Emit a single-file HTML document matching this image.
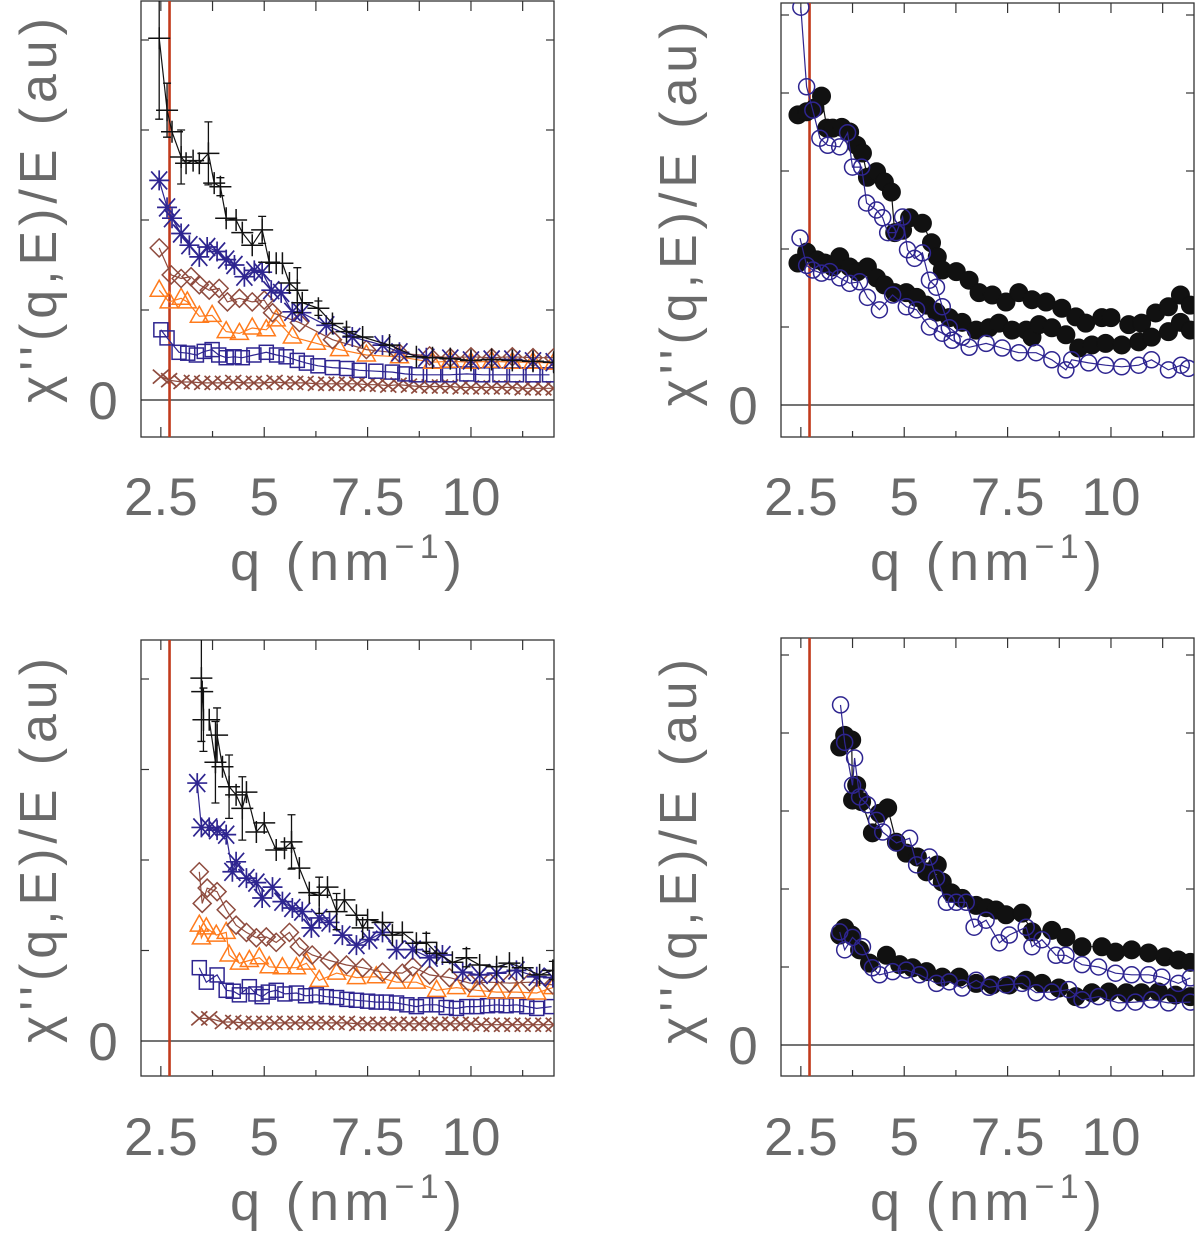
<!DOCTYPE html>
<html><head><meta charset="utf-8"><style>
html,body{margin:0;padding:0;background:#fff;}
svg{display:block;}
text{font-family:"Liberation Sans","DejaVu Sans",sans-serif;fill:#6a6a6a;}
</style></head>
<body>
<svg id="fig" width="1200" height="1234" viewBox="0 0 1200 1234" xmlns="http://www.w3.org/2000/svg"></svg>
<script>
// ---------- DATA (q in nm^-1, values in tick units) ----------
// Top-left panel
const tlPlusQ=[2.46,2.65,2.77,2.99,3.11,3.28,3.43,3.65,3.79,3.94,4.08,4.32,4.47,4.71,4.95,5.12,5.29,5.44,5.61,5.80,5.92,6.31,6.65,6.99,7.38,8.03,8.68,9.07,9.5,10,10.5,11,11.5,12];
const tlPlusV=[4.02,3.22,2.98,2.70,2.63,2.66,2.63,2.74,2.41,2.37,2.02,2.00,1.86,1.72,1.89,1.53,1.52,1.52,1.30,1.22,1.08,1.02,0.85,0.76,0.70,0.61,0.48,0.47,0.46,0.44,0.45,0.44,0.43,0.42];
const tlPlusE=[0.9,0.3,0.0,0.3,0.0,0.0,0.0,0.35,0.0,0.1,0.0,0.0,0.0,0.0,0.15,0.0,0.0,0.0,0.0,0.25,0.0,0.08,0.0,0.05,0.0,0.0,0.0,0.0,0,0,0,0,0,0];
const tlStarQ=[2.46,2.65,2.77,2.99,3.19,3.43,3.62,3.86,4.08,4.28,4.52,4.76,4.95,5.17,5.41,5.68,5.90,6.50,7.13,7.86,8.27,8.92,9.5,10,10.5,11,11.5,12];
const tlStarV=[2.44,2.14,2.02,1.85,1.72,1.59,1.70,1.65,1.56,1.50,1.37,1.44,1.42,1.22,1.19,0.98,0.97,0.83,0.70,0.61,0.53,0.47,0.46,0.44,0.45,0.45,0.43,0.42];
const tlDiaQ=[2.46,2.75,2.99,3.23,3.43,3.67,3.91,4.11,4.40,4.71,5.00,5.20,5.85,6.65,7.47,8.27,9,9.5,10,10.5,11,11.5,12];
const tlDiaV=[1.69,1.39,1.35,1.37,1.28,1.22,1.24,1.09,1.13,1.09,1.11,0.97,0.86,0.67,0.56,0.52,0.49,0.47,0.48,0.47,0.48,0.47,0.47];
const tlTriQ=[2.46,2.70,2.99,3.14,3.43,3.74,4.08,4.40,4.71,5.05,5.29,5.68,6.26,6.82,7.47,8.27,9.07,9.5,10,10.5,11,11.5,12];
const tlTriV=[1.22,1.09,1.13,1.09,0.93,0.94,0.76,0.74,0.80,0.78,0.89,0.70,0.63,0.56,0.50,0.48,0.42,0.43,0.42,0.43,0.42,0.42,0.41];
const tlSqQ=[2.5,2.65,2.94,3.15,3.36,3.55,3.74,3.9,4.08,4.27,4.47,4.75,5.05,5.3,5.53,5.8,6.02,6.3,6.65,7.0,7.30,7.7,8.10,8.4,8.68,9.1,9.48,9.9,10.28,10.7,11.1,11.5,11.9];
const tlSqV=[0.78,0.69,0.53,0.52,0.50,0.54,0.56,0.50,0.47,0.48,0.47,0.50,0.53,0.50,0.48,0.44,0.41,0.38,0.36,0.35,0.33,0.32,0.31,0.29,0.28,0.28,0.28,0.29,0.28,0.28,0.28,0.28,0.28];
const tlXQ=[2.5,2.7,3,3.25,3.5,3.75,4,4.25,4.5,4.75,5,5.25,5.5,5.75,6,6.25,6.5,6.75,7,7.25,7.5,7.75,8,8.25,8.5,8.75,9,9.25,9.5,9.75,10,10.25,10.5,10.75,11,11.25,11.5,11.75,12];
const tlXV=[0.26,0.22,0.20,0.20,0.19,0.19,0.19,0.20,0.19,0.19,0.19,0.20,0.19,0.19,0.19,0.18,0.18,0.18,0.18,0.18,0.17,0.17,0.16,0.17,0.16,0.15,0.15,0.15,0.15,0.14,0.14,0.14,0.14,0.14,0.14,0.13,0.13,0.13,0.13];
// Top-right panel
const trFillUQ=[2.43,2.64,2.84,3.0,3.13,3.27,3.49,3.68,3.85,3.99,4.11,4.33,4.52,4.69,4.77,4.96,5.13,5.44,5.66,5.80,5.92,6.26,6.57,6.81,7.13,7.46,7.77,8.09,8.43,8.81,9.15,9.39,9.78,10.0,10.43,10.74,11.08,11.39,11.68,11.92];
const trFillUV=[3.72,3.76,3.81,3.96,3.55,3.55,3.56,3.50,3.33,3.23,2.92,2.99,2.86,2.73,2.21,2.24,2.40,2.33,2.08,1.90,1.73,1.71,1.60,1.44,1.41,1.32,1.44,1.35,1.32,1.24,1.13,1.05,1.12,1.12,1.03,1.05,1.18,1.26,1.41,1.28];
const trOpenUQ=[2.5,2.64,2.79,2.96,3.15,3.44,3.63,3.75,3.97,4.09,4.33,4.48,4.60,4.81,4.96,5.08,5.25,5.44,5.61,5.78,5.92,6.09,6.40];
const trOpenUV=[5.10,4.08,3.78,3.42,3.33,3.31,3.49,3.05,3.05,2.59,2.50,2.40,2.21,2.21,2.41,1.99,1.88,1.95,1.60,1.51,1.26,0.99,0.87];
const trFillLQ=[2.43,2.64,2.89,3.08,3.27,3.44,3.68,3.87,4.11,4.33,4.52,4.77,5.05,5.30,5.54,5.78,6.09,6.40,6.74,7.05,7.29,7.61,7.95,8.09,8.26,8.57,8.91,9.22,9.54,9.87,10.26,10.67,10.98,11.39,11.68,11.92];
const trFillLV=[1.82,1.96,1.86,1.82,1.77,1.90,1.77,1.71,1.77,1.63,1.54,1.44,1.44,1.38,1.28,1.19,1.12,1.06,0.96,0.99,1.05,0.96,0.96,0.87,1.03,0.99,0.90,0.73,0.77,0.79,0.77,0.81,0.87,0.94,1.06,0.96];
const trOpenLQ=[2.48,2.64,2.79,3.0,3.20,3.44,3.68,3.92,4.11,4.40,4.72,5.05,5.30,5.61,5.92,6.16,6.57,6.98,7.37,7.77,8.19,8.57,8.91,9.05,9.46,9.87,10.26,10.67,10.98,11.39,11.70,11.87];
const trOpenLV=[2.14,1.79,1.73,1.69,1.71,1.63,1.56,1.58,1.38,1.22,1.41,1.26,1.22,1.00,0.92,0.83,0.74,0.79,0.73,0.67,0.67,0.58,0.45,0.58,0.54,0.51,0.49,0.51,0.58,0.45,0.51,0.47];
// Bottom-left panel
const blPlusQ=[3.48,3.50,3.53,3.67,3.82,3.86,3.99,4.15,4.32,4.47,4.57,4.81,5.0,5.29,5.49,5.66,5.85,6.09,6.33,6.53,6.75,6.94,7.23,7.38,7.50,7.86,8.10,8.34,8.68,8.92,9.17,9.55,9.89,10.21,10.62,10.93,11.25,11.66,11.98];
const blPlusV=[4.01,3.86,3.55,3.55,3.08,3.38,3.03,2.81,2.72,2.57,2.75,2.31,2.41,2.11,2.13,2.20,1.91,1.64,1.61,1.70,1.43,1.56,1.39,1.25,1.34,1.31,1.17,1.20,1.08,1.09,0.97,0.87,0.92,0.84,0.82,0.86,0.81,0.73,0.78];
const blPlusE=[0.7,0,0.35,0,0.45,0.3,0,0.35,0,0.35,0,0,0,0,0,0.3,0,0,0.2,0,0.2,0,0,0,0,0,0,0,0,0.1,0,0,0.1,0,0,0,0,0,0.1];
const blStarQ=[3.38,3.48,3.67,3.86,4.08,4.23,4.32,4.57,4.81,4.95,5.20,5.44,5.68,5.92,6.14,6.33,6.58,6.89,7.23,7.54,7.86,8.20,8.59,9.0,9.31,9.80,10.21,10.62,11.1,11.59,11.98];
const blStarV=[2.85,2.36,2.36,2.33,2.28,1.87,1.98,1.80,1.75,1.58,1.70,1.54,1.47,1.43,1.25,1.36,1.31,1.17,1.06,1.12,1.20,1.01,1.01,0.92,0.95,0.76,0.73,0.75,0.78,0.71,0.70];
const blDiaQ=[3.43,3.50,3.62,3.86,4.08,4.32,4.57,4.81,5.05,5.29,5.61,5.85,6.16,6.58,6.99,7.38,7.86,8.34,8.59,9.0,9.48,9.97,10.45,10.93,11.42,11.98];
const blDiaV=[1.87,1.52,1.69,1.65,1.45,1.28,1.20,1.14,1.15,1.09,1.20,1.04,0.95,0.89,0.84,0.81,0.76,0.75,0.82,0.73,0.70,0.64,0.65,0.64,0.65,0.62];
const blTriQ=[3.43,3.48,3.60,3.84,4.08,4.15,4.40,4.64,4.88,5.12,5.44,5.78,6.02,6.33,6.75,7.23,7.71,8.20,8.68,9.17,9.65,10.14,10.62,11.1,11.59,11.98];
const blTriV=[1.28,1.14,1.25,1.17,1.20,0.95,0.86,0.89,0.92,0.82,0.81,0.81,0.86,0.67,0.75,0.70,0.71,0.65,0.65,0.56,0.59,0.56,0.54,0.54,0.53,0.59];
const blSqQ=[3.43,3.60,3.86,4.08,4.25,4.40,4.64,4.8,4.95,5.1,5.29,5.5,5.78,6.0,6.26,6.5,6.75,7.0,7.23,7.5,7.71,7.95,8.20,8.45,8.68,8.9,9.17,9.4,9.65,9.9,10.14,10.4,10.62,10.85,11.1,11.35,11.59,11.95];
const blSqV=[0.81,0.65,0.73,0.56,0.55,0.51,0.60,0.52,0.49,0.54,0.56,0.52,0.53,0.50,0.51,0.49,0.48,0.46,0.45,0.44,0.43,0.43,0.42,0.40,0.38,0.40,0.40,0.37,0.36,0.38,0.38,0.39,0.40,0.39,0.40,0.38,0.36,0.38];
const blXQ=[3.43,3.67,4,4.25,4.5,4.75,5,5.25,5.5,5.75,6,6.25,6.5,6.75,7,7.25,7.5,7.75,8,8.25,8.5,8.75,9,9.25,9.5,9.75,10,10.25,10.5,10.75,11,11.25,11.5,11.75,12];
const blXV=[0.25,0.25,0.21,0.21,0.20,0.20,0.20,0.20,0.20,0.20,0.20,0.20,0.20,0.20,0.20,0.19,0.19,0.19,0.19,0.19,0.19,0.19,0.19,0.19,0.19,0.19,0.19,0.18,0.18,0.18,0.18,0.18,0.18,0.18,0.18];
// Bottom-right panel
const brFillUQ=[3.44,3.56,3.73,3.75,3.85,3.97,4.23,4.40,4.60,4.81,5.05,5.32,5.54,5.80,5.92,6.14,6.40,6.74,6.98,7.22,7.46,7.85,8.09,8.57,8.91,9.30,9.78,10.11,10.50,10.91,11.30,11.63,11.92];
const brFillUV=[3.82,3.97,3.91,3.14,3.33,3.12,2.72,2.97,3.04,2.60,2.46,2.41,2.22,2.31,2.09,1.95,1.88,1.79,1.76,1.73,1.67,1.69,1.45,1.47,1.38,1.26,1.26,1.19,1.22,1.18,1.13,1.09,1.06];
const brOpenUQ=[3.46,3.56,3.75,3.80,3.92,4.11,4.33,4.48,4.81,5.13,5.30,5.61,5.78,6.02,6.26,6.50,6.69,6.98,7.30,7.54,7.95,8.09,8.33,8.67,8.91,9.30,9.70,10.11,10.50,10.91,11.23,11.63,11.92];
const brOpenUV=[4.36,3.88,3.33,3.68,3.18,3.08,2.88,2.73,2.59,2.65,2.31,2.41,2.14,1.83,1.83,1.83,1.51,1.60,1.31,1.41,1.51,1.26,1.35,1.15,1.15,1.03,1.00,0.92,0.90,0.90,0.87,0.79,0.86];
const brFillLQ=[3.44,3.56,3.73,3.92,4.16,4.57,4.89,5.20,5.54,5.92,6.33,6.74,7.13,7.54,7.95,8.33,8.74,9.15,9.54,9.95,10.37,10.74,11.15,11.56,11.92];
const brFillLV=[1.41,1.50,1.41,1.22,1.05,1.15,1.03,0.99,0.94,0.87,0.87,0.79,0.77,0.77,0.83,0.79,0.73,0.62,0.67,0.68,0.67,0.67,0.68,0.64,0.62];
const brOpenLQ=[3.44,3.56,3.75,3.99,4.23,4.40,4.72,5.05,5.37,5.78,6.09,6.40,6.74,7.05,7.46,7.85,8.19,8.57,8.98,9.30,9.70,10.18,10.59,10.98,11.39,11.92];
const brOpenLV=[1.45,1.22,1.38,1.26,0.99,0.90,0.94,0.96,0.90,0.79,0.81,0.73,0.83,0.74,0.77,0.79,0.67,0.68,0.71,0.58,0.62,0.54,0.55,0.58,0.54,0.55];
const xTickLabels=["2.5","5","7.5","10"];
const xTickVals=[2.5,5,7.5,10];

// ---------- DRAWING ----------
const NS="http://www.w3.org/2000/svg";
const svg=document.getElementById('fig');
const BLACK="#111", BLUE="#2e2590", BROWN="#8e4b3e", ORANGE="#ff7b1c", RED="#c23a1c";
function mk(tag,attrs,parent){const e=document.createElementNS(NS,tag);for(const k in attrs)e.setAttribute(k,attrs[k]);(parent||svg).appendChild(e);return e;}

const panels=[
 {id:'top-left',L:141,R:554,T:1,B:437,zero:400,unit:90,nTicks:4,lblDX:0,lblDY:0},
 {id:'top-right',L:781,R:1194,T:3,B:437,zero:405,unit:78,nTicks:5,lblDX:640,lblDY:0},
 {id:'bottom-left',L:141,R:554,T:640,B:1076,zero:1041,unit:90.5,nTicks:4,lblDX:0,lblDY:640},
 {id:'bottom-right',L:781,R:1194,T:638,B:1076,zero:1045,unit:78,nTicks:5,lblDX:640,lblDY:640}
];
const QMIN=2.02, PXQ=41.35, RED_Q=2.71;

function drawPanel(p){
  const g=mk('g',{});
  
  
  const xs=q=>p.L+(q-QMIN)*PXQ;
  const ys=v=>p.zero-v*p.unit;
  const cid='clip-'+p.id;
  const cp=mk('clipPath',{id:cid},g);
  mk('rect',{x:p.L,y:p.T,width:p.R-p.L,height:p.B-p.T},cp);
  const fr=mk('rect',{x:p.L,y:p.T,width:p.R-p.L,height:p.B-p.T,fill:'none',stroke:'#333','stroke-width':1.3},g);
  
  
  for(let q=2.5;q<12.1;q+=1.25){
    const major=Math.abs((q/2.5)-Math.round(q/2.5))<1e-6;
    const x=xs(q), len=major?10:6;
    mk('line',{x1:x,x2:x,y1:p.B,y2:p.B-len,stroke:'#333','stroke-width':1.2},g);
    mk('line',{x1:x,x2:x,y1:p.T,y2:p.T+10,stroke:'#333','stroke-width':1.2},g);
  }
  for(let i=1;i<=p.nTicks;i++){
    const y=ys(i);
    mk('line',{x1:p.L,x2:p.L+8,y1:y,y2:y,stroke:'#333','stroke-width':1.2},g);
    mk('line',{x1:p.R,x2:p.R-8,y1:y,y2:y,stroke:'#333','stroke-width':1.2},g);
  }
  const zl=mk('line',{x1:p.L,x2:p.R,y1:p.zero,y2:p.zero,stroke:'#222','stroke-width':1.2},g);
  
  
  const data=mk('g',{'clip-path':'url(#'+cid+')'},g);
  const rl=mk('line',{x1:xs(RED_Q),x2:xs(RED_Q),y1:p.T,y2:p.B,stroke:RED,'stroke-width':2.6},data);
  
  
  xTickVals.forEach((v,i)=>{
    const t=mk('text',{x:xs(v),y:515+p.lblDY,'text-anchor':'middle','font-size':53},svg);
    t.textContent=xTickLabels[i];
    
    
  });
  const z=mk('text',{x:p.L-38,y:p.zero+19,'text-anchor':'middle','font-size':53},svg);
  z.textContent='0';
  
  
  const xt=mk('text',{x:230+p.lblDX,y:580+p.lblDY,'font-size':54,textLength:232,lengthAdjust:'spacing'},svg);
  xt.innerHTML='q (nm<tspan dy="-22" font-size="34">−1</tspan><tspan dy="22">)</tspan>';
  
  
  const cy=(p.T+p.zero)/2+10, cx=p.L-85;
  const yt=mk('text',{x:0,y:0,'text-anchor':'middle','font-size':52,textLength:385,lengthAdjust:'spacing',transform:`translate(${cx},${cy}) rotate(-90)`},svg);
  yt.textContent="χ''(q,E)/E (au)";
  
  
  return {xs,ys,data};
}

function series(ctx,name,Q,V,color,marker,E){
  const g=mk('g',{},ctx.data);
  
  
  const pts=Q.map((q,i)=>ctx.xs(q).toFixed(1)+','+ctx.ys(V[i]).toFixed(1)).join(' ');
  mk('polyline',{points:pts,fill:'none',stroke:color,'stroke-width':1.2},g);
  Q.forEach((q,i)=>{
    const x=ctx.xs(q), y=ctx.ys(V[i]);
    if(E&&E[i]>0){
      const d=E[i]*(ctx.ys(0)-ctx.ys(1));
      mk('path',{d:`M${x},${y-d}V${y+d}M${x-4},${y-d}H${x+4}M${x-4},${y+d}H${x+4}`,stroke:color,'stroke-width':1.3,fill:'none'},g);
    }
    let m;
    const s=9;
    if(marker==='plus') m=mk('path',{d:`M${x-11},${y}H${x+11}M${x},${y-11}V${y+11}`,stroke:color,'stroke-width':1.5,fill:'none'},g);
    else if(marker==='star') m=mk('path',{d:`M${x-10},${y}H${x+10}M${x-8},${y-9}L${x+8},${y+9}M${x+8},${y-9}L${x-8},${y+9}M${x},${y-10}V${y+10}`,stroke:color,'stroke-width':1.7,fill:'none'},g);
    else if(marker==='diamond') m=mk('path',{d:`M${x},${y-s}L${x+s},${y}L${x},${y+s}L${x-s},${y}Z`,stroke:color,'stroke-width':1.5,fill:'none'},g);
    else if(marker==='tri') m=mk('path',{d:`M${x},${y-10}L${x+9},${y+6}L${x-9},${y+6}Z`,stroke:color,'stroke-width':1.5,fill:'none'},g);
    else if(marker==='square') m=mk('rect',{x:x-7,y:y-7,width:14,height:14,stroke:color,'stroke-width':1.5,fill:'none'},g);
    else if(marker==='x') m=mk('path',{d:`M${x-8},${y-7}L${x+8},${y+7}M${x+8},${y-7}L${x-8},${y+7}`,stroke:color,'stroke-width':1.7,fill:'none'},g);
    else if(marker==='fill') m=mk('circle',{cx:x,cy:y,r:9,fill:color,stroke:color,'stroke-width':1},g);
    else if(marker==='open') m=mk('circle',{cx:x,cy:y,r:8,fill:'none',stroke:color,'stroke-width':1.5},g);
    
    
  });
}

const tl=drawPanel(panels[0]);
series(tl,'series-x',tlXQ,tlXV,BROWN,'x');
series(tl,'series-square',tlSqQ,tlSqV,BLUE,'square');
series(tl,'series-triangle',tlTriQ,tlTriV,ORANGE,'tri');
series(tl,'series-diamond',tlDiaQ,tlDiaV,BROWN,'diamond');
series(tl,'series-star',tlStarQ,tlStarV,BLUE,'star');
series(tl,'series-plus',tlPlusQ,tlPlusV,BLACK,'plus',tlPlusE);

const tr=drawPanel(panels[1]);
series(tr,'series-filled-upper',trFillUQ,trFillUV,BLACK,'fill');
series(tr,'series-filled-lower',trFillLQ,trFillLV,BLACK,'fill');
series(tr,'series-open-upper',trOpenUQ,trOpenUV,BLUE,'open');
series(tr,'series-open-lower',trOpenLQ,trOpenLV,BLUE,'open');

const bl=drawPanel(panels[2]);
series(bl,'series-x',blXQ,blXV,BROWN,'x');
series(bl,'series-square',blSqQ,blSqV,BLUE,'square');
series(bl,'series-triangle',blTriQ,blTriV,ORANGE,'tri');
series(bl,'series-diamond',blDiaQ,blDiaV,BROWN,'diamond');
series(bl,'series-star',blStarQ,blStarV,BLUE,'star');
series(bl,'series-plus',blPlusQ,blPlusV,BLACK,'plus',blPlusE);

const br=drawPanel(panels[3]);
series(br,'series-filled-upper',brFillUQ,brFillUV,BLACK,'fill');
series(br,'series-filled-lower',brFillLQ,brFillLV,BLACK,'fill');
series(br,'series-open-upper',brOpenUQ,brOpenUV,BLUE,'open');
series(br,'series-open-lower',brOpenLQ,brOpenLV,BLUE,'open');
</script>
</body></html>
